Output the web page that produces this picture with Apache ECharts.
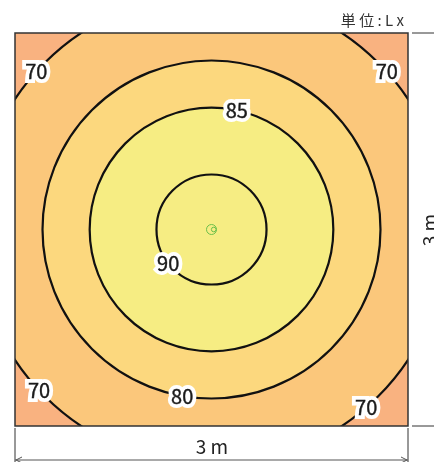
<!DOCTYPE html>
<html>
<head>
<meta charset="utf-8">
<script src="https://cdn.jsdelivr.net/npm/echarts@6/dist/echarts.min.js"></script>
<style>
  html, body { margin: 0; padding: 0; background: #fff; }
  #chart { width: 434px; height: 462px; }
</style>
</head>
<body>
<div id="chart"></div>
<script>
// room and isolux data (m, Lx)
const roomSize = 3;
const lampPos = [1.5, 1.5];
const levels = [70, 80, 85, 90];
const radii = [1.80, 1.29, 0.93, 0.42];
// contour labels: level and angle (deg, ccw from east) where it sits
const labelLevels = [70, 70, 85, 90, 70, 80, 70];
const labelAngles = [138, 42, 78, 218, 223, 260, 311];

const cornerColor = '#f9b280';
const bandColors = ['#fbc77b', '#fcd87e', '#f6ed83', '#f6ed83'];
const FONT = '"Noto Sans CJK JP", "Noto Sans", sans-serif';

const chart = echarts.init(document.getElementById('chart'));

const G = { left: 15, top: 33, size: 393 };

const option = {
  animation: false,
  grid: {
    left: G.left, top: G.top, width: G.size, height: G.size,
    show: true, backgroundColor: cornerColor, borderWidth: 0
  },
  xAxis: { type: 'value', min: 0, max: roomSize, show: false },
  yAxis: { type: 'value', min: 0, max: roomSize, show: false },
  series: [
    {
      // filled isolux bands + contour lines
      type: 'custom',
      clip: true,
      data: levels.map((lv, i) => [lampPos[0], lampPos[1], radii[i], i]),
      encode: { x: 0, y: 1 },
      renderItem(params, api) {
        const c = api.coord([api.value(0), api.value(1)]);
        const r = api.size([api.value(2), 0])[0];
        return {
          type: 'circle',
          shape: { cx: c[0], cy: c[1], r: r },
          style: { fill: bandColors[api.value(3)], stroke: '#111', lineWidth: 2.2 }
        };
      }
    },
    {
      // lamp marker
      type: 'custom',
      data: [lampPos],
      encode: { x: 0, y: 1 },
      z: 5,
      renderItem(params, api) {
        const c = api.coord([api.value(0), api.value(1)]);
        return {
          type: 'group',
          children: [
            { type: 'circle', shape: { cx: c[0], cy: c[1], r: 5 },
              style: { fill: 'none', stroke: '#6cc04a', lineWidth: 1 } },
            { type: 'circle', shape: { cx: c[0] + 2.2, cy: c[1], r: 2.3 },
              style: { fill: 'none', stroke: '#6cc04a', lineWidth: 1 } }
          ]
        };
      }
    },
    {
      // contour value labels (white halo underneath, dark text on top)
      type: 'custom',
      data: labelLevels.map((lv, i) => [lv, labelAngles[i]]),
      z: 10,
      renderItem(params, api) {
        const lv = api.value(0);
        const ang = api.value(1) * Math.PI / 180;
        const r = radii[levels.indexOf(lv)];
        const p = api.coord([lampPos[0] + r * Math.cos(ang), lampPos[1] + r * Math.sin(ang)]);
        const base = { text: String(lv), align: 'center', verticalAlign: 'middle', font: '20px ' + FONT };
        return {
          type: 'group',
          children: [
            { type: 'text', x: p[0], y: p[1],
              style: Object.assign({ fill: '#fff', stroke: '#fff', lineWidth: 8, lineJoin: 'round' }, base) },
            { type: 'text', x: p[0], y: p[1], z2: 2,
              style: Object.assign({ fill: '#1a1a1a', stroke: '#1a1a1a', lineWidth: 0.4 }, base) }
          ]
        };
      }
    }
  ],
  graphic: [
    // room frame
    { type: 'rect', z: 100, shape: { x: 15, y: 33, width: 393, height: 393 },
      style: { fill: 'none', stroke: '#333', lineWidth: 1.5 } },
    // extension lines
    { type: 'line', z: 100, shape: { x1: 412, y1: 33, x2: 434, y2: 33 }, style: { stroke: '#333', lineWidth: 1 } },
    { type: 'line', z: 100, shape: { x1: 412, y1: 426, x2: 434, y2: 426 }, style: { stroke: '#333', lineWidth: 1 } },
    { type: 'line', z: 100, shape: { x1: 15, y1: 428, x2: 15, y2: 462 }, style: { stroke: '#333', lineWidth: 1 } },
    { type: 'line', z: 100, shape: { x1: 408, y1: 428, x2: 408, y2: 462 }, style: { stroke: '#333', lineWidth: 1 } },
    // dimension line
    { type: 'line', z: 100, shape: { x1: 15, y1: 460, x2: 408, y2: 460 }, style: { stroke: '#555', lineWidth: 1 } },
    { type: 'polyline', z: 100, shape: { points: [[22, 457], [16, 460], [22, 463]] }, style: { fill: 'none', stroke: '#555', lineWidth: 1 } },
    { type: 'polyline', z: 100, shape: { points: [[401, 457], [407, 460], [401, 463]] }, style: { fill: 'none', stroke: '#555', lineWidth: 1 } },
    // texts
    { type: 'text', z: 100, x: 212, y: 447,
      style: { text: '3 m', align: 'center', verticalAlign: 'middle', fill: '#222', font: '19px ' + FONT } },
    { type: 'text', z: 100, x: 430, y: 230, rotation: Math.PI / 2,
      style: { text: '3 m', align: 'center', verticalAlign: 'middle', fill: '#222', font: '19px ' + FONT } },
    { type: 'text', z: 100, x: 404, y: 20,
      style: { text: '単 位 : L x', align: 'right', verticalAlign: 'middle', fill: '#333', font: '15px ' + FONT } }
  ]
};

chart.setOption(option);
</script>
</body>
</html>
